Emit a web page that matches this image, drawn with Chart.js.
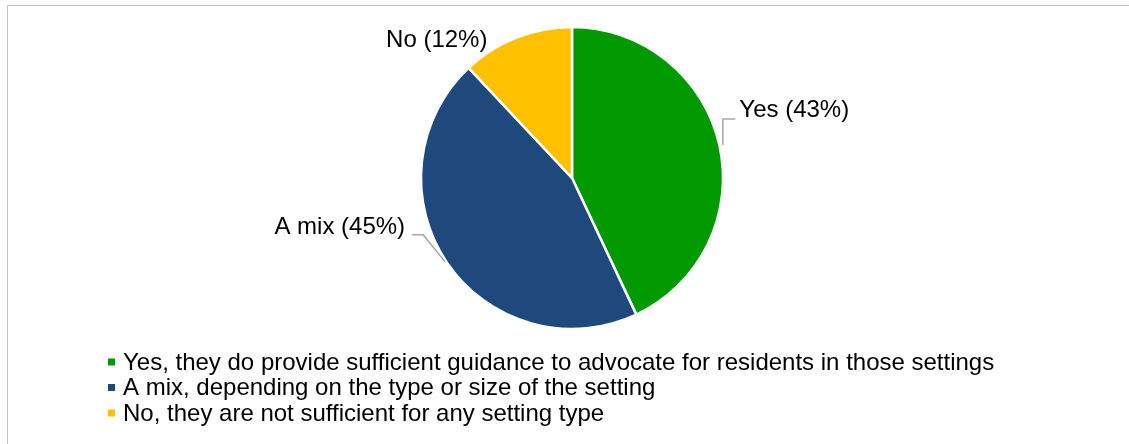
<!DOCTYPE html>
<html>
<head>
<meta charset="utf-8">
<script src="https://cdn.jsdelivr.net/npm/chart.js@4.4.1/dist/chart.umd.min.js"></script>
<style>
  body { margin: 0; background: #fff; }
</style>
</head>
<body>
<canvas id="pieCanvas" width="1129" height="444"></canvas>
<script>
  // answers, in legend order
  var legendLabels = [
    'Yes, they do provide sufficient guidance to advocate for residents in those settings',
    'A mix, depending on the type or size of the setting',
    'No, they are not sufficient for any setting type'
  ];
  var shortLabels = ['Yes', 'A mix', 'No'];
  var values = [43, 45, 12];
  var colors = ['#009900', '#1F497D', '#FFC000'];

  var FONT = '24px "Liberation Sans", Arial, sans-serif';

  var frame = {
    id: 'frame',
    beforeDraw: function (chart) {
      var c = chart.ctx;
      c.save();
      c.strokeStyle = '#BFBFBF';
      c.lineWidth = 1;
      c.strokeRect(7.5, 5.5, 1300, 600);
      c.restore();
    }
  };

  var sliceLabels = {
    id: 'sliceLabels',
    afterDraw: function (chart) {
      var c = chart.ctx;
      var arcs = chart.getDatasetMeta(0).data;
      c.save();
      c.font = FONT;
      c.fillStyle = '#000';
      c.textBaseline = 'middle';
      c.strokeStyle = '#A6A6A6';
      c.lineWidth = 1.5;
      arcs.forEach(function (arc, i) {
        var p = arc.getProps(['x', 'y', 'startAngle', 'endAngle', 'outerRadius'], true);
        var mid = (p.startAngle + p.endAngle) / 2;
        var ax = p.x + p.outerRadius * Math.cos(mid);
        var ay = p.y + p.outerRadius * Math.sin(mid);
        var text = shortLabels[i] + ' (' + values[i] + '%)';
        if (i === 0) {
          c.beginPath();
          c.moveTo(ax + 3.5, ay);
          c.lineTo(ax + 3.5, ay - 26);
          c.lineTo(ax + 16, ay - 26);
          c.stroke();
          c.textAlign = 'left';
          c.fillText(text, ax + 20, ay - 35);
        } else if (i === 1) {
          c.beginPath();
          c.moveTo(ax - 2, ay - 1);
          c.lineTo(ax - 24, ay - 28);
          c.lineTo(ax - 35, ay - 28);
          c.stroke();
          c.textAlign = 'right';
          c.fillText(text, ax - 42, ay - 35);
        } else {
          c.textAlign = 'right';
          c.fillText(text, ax - 29, ay + 3);
        }
      });

      // legend
      c.textAlign = 'left';
      legendLabels.forEach(function (lab, i) {
        var rowY = 362 + i * 25.5;
        c.fillStyle = colors[i];
        c.fillRect(108, rowY - 3.5, 7, 7);
        c.fillStyle = '#000';
        c.fillText(lab, 123, rowY + 1);
      });
      c.restore();
    }
  };

  var ctx = document.getElementById('pieCanvas').getContext('2d');
  var chart = new Chart(ctx, {
    type: 'pie',
    data: {
      labels: shortLabels,
      datasets: [{
        data: values,
        backgroundColor: colors,
        borderColor: '#FFFFFF',
        borderWidth: 2.5
      }]
    },
    options: {
      responsive: false,
      animation: false,
      events: [],
      radius: 151,
      layout: { padding: { left: 421, right: 406, top: 27, bottom: 115 } },
      plugins: {
        legend: { display: false },
        tooltip: { enabled: false }
      }
    },
    plugins: [frame, sliceLabels]
  });
</script>
</body>
</html>
